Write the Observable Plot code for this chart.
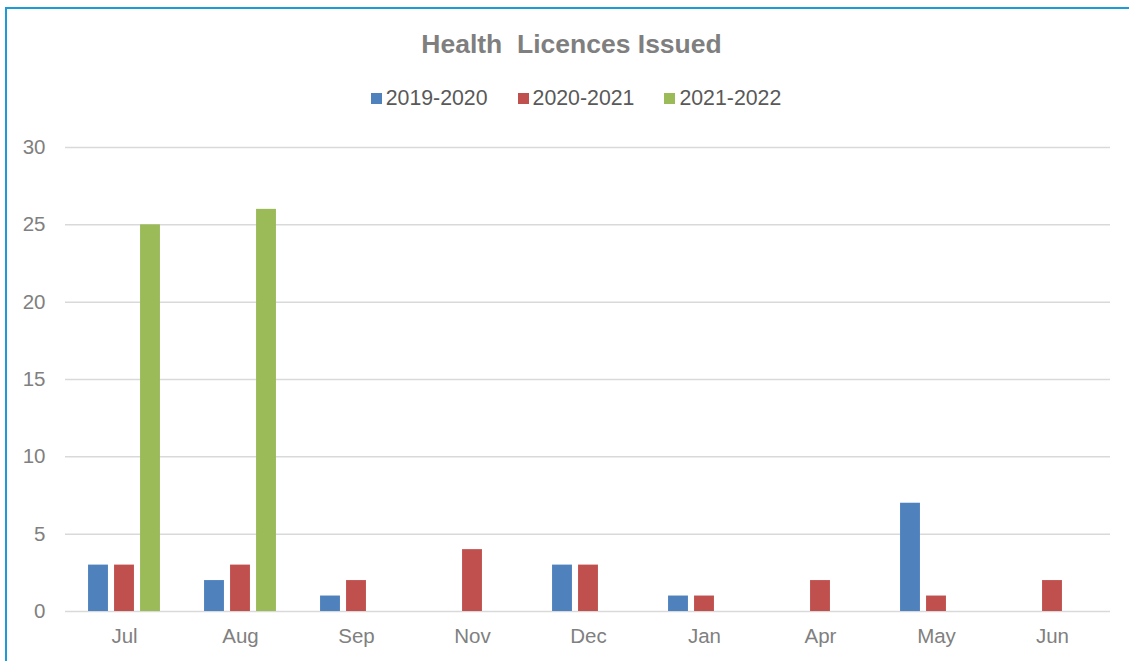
<!DOCTYPE html>
<html><head><meta charset="utf-8">
<script src="https://cdn.jsdelivr.net/npm/d3@7"></script>
<script src="https://cdn.jsdelivr.net/npm/@observablehq/plot@0.6"></script>
<style>
html,body{margin:0;padding:0;background:#fff;font-family:"Liberation Sans",Arial,sans-serif;}
#wrap{position:relative;width:1129px;height:661px;overflow:hidden;}
#frame{position:absolute;left:5px;top:7px;width:1140px;height:670px;border-left:2px solid #1b9bd7;border-top:2px solid #1b9bd7;box-sizing:border-box;}
#title{position:absolute;top:29px;left:0;width:1143px;text-align:center;font-weight:bold;font-size:26.5px;line-height:30px;color:#7f7f7f;white-space:pre;}
#legend{position:absolute;top:86px;left:0;width:1152px;display:flex;justify-content:center;font-size:21.3px;line-height:24px;color:#595959;}
#legend .item{display:flex;align-items:center;margin:0 15px;}
#legend .sw{width:11px;height:11px;margin-right:4px;}
#chart{position:absolute;top:120px;left:0;}
</style></head>
<body>
<div id="wrap">
  <div id="frame"></div>
  <div id="title"></div>
  <div id="legend"></div>
  <div id="chart"></div>
</div>
<script>
const titleText = "Health  Licences Issued";
const months = ["Jul","Aug","Sep","Nov","Dec","Jan","Apr","May","Jun"];
const series = ["2019-2020","2020-2021","2021-2022"];
const colors = ["#4f81bd","#c0504d","#9bbb59"];
const v2019_2020 = [3,2,1,0,3,1,0,7,0];
const v2020_2021 = [3,3,2,4,3,1,2,1,2];
const v2021_2022 = [25,26,0,0,0,0,0,0,0];
const yTicks = [0,5,10,15,20,25,30];

const values = [v2019_2020, v2020_2021, v2021_2022];

document.getElementById("title").textContent = titleText;
const legend = document.getElementById("legend");
series.forEach((s,i)=>{
  const it = document.createElement("div"); it.className="item";
  const sw = document.createElement("div"); sw.className="sw"; sw.style.background=colors[i];
  const tx = document.createElement("span"); tx.textContent=s;
  it.appendChild(sw); it.appendChild(tx); legend.appendChild(it);
});

const W = 1129, H = 541;
const mL = 65, mR = 19, mT = 27, mB = 50;
const bw = (W - mL - mR) / months.length;
const barW = 20, pitch = 26;

const marks = [
  Plot.ruleY(yTicks, {stroke:"#d9d9d9", strokeWidth:1.5})
];
series.forEach((s,i)=>{
  const data = months.map((m,j)=>({month:m, series:s, value:values[i][j]})).filter(d=>d.value>0);
  const off = (i-1)*pitch;
  marks.push(Plot.barY(data, {
    x:"month", y:"value", fill:"series",
    insetLeft: bw/2 - barW/2 + off,
    insetRight: bw/2 - barW/2 - off
  }));
});
marks.push(Plot.axisY({ticks:yTicks, tickSize:0, tickPadding:20, label:null}));
marks.push(Plot.axisX({tickSize:0, tickPadding:17, label:null}));

const chart = Plot.plot({
  width: W, height: H,
  marginLeft: mL, marginRight: mR, marginTop: mT, marginBottom: mB,
  style:{fontSize:"20.5px", fontFamily:"'Liberation Sans', Arial, sans-serif", color:"#808080", background:"transparent"},
  x:{domain:months, padding:0},
  y:{domain:[0,30]},
  color:{domain:series, range:colors},
  marks
});
document.getElementById("chart").appendChild(chart);
</script>
</body></html>
